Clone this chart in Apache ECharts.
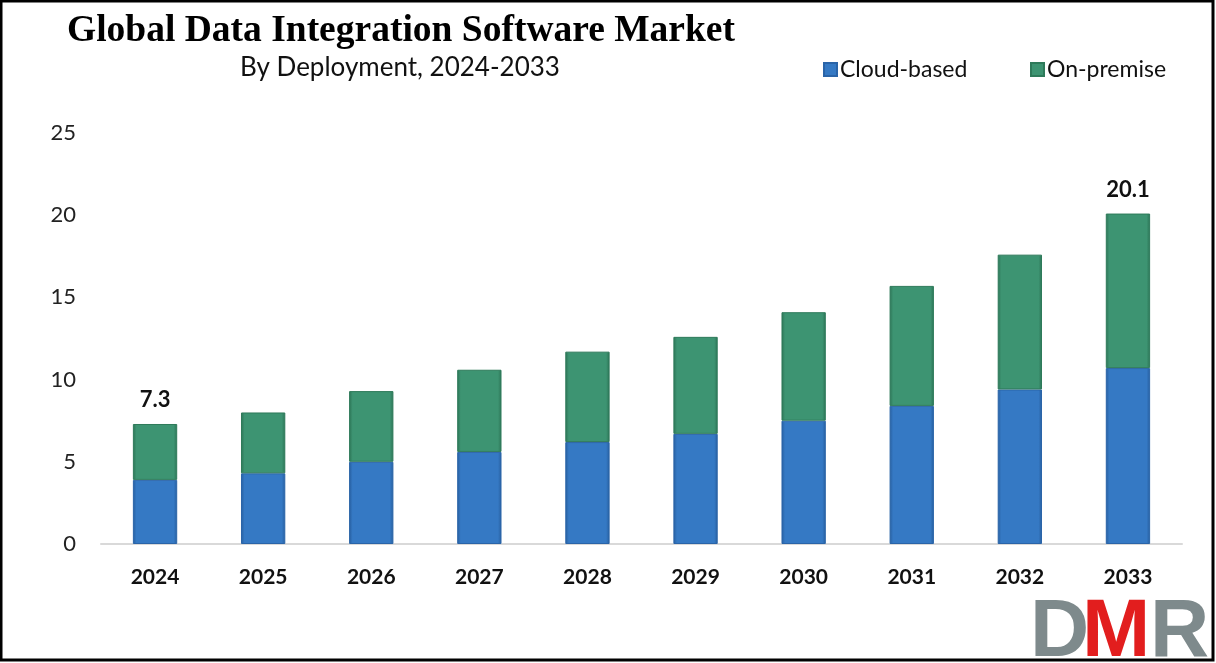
<!DOCTYPE html>
<html>
<head>
<meta charset="utf-8">
<script src="https://cdn.jsdelivr.net/npm/echarts@6/dist/echarts.min.js"></script>
<style>
html,body{margin:0;padding:0;background:#fff;}
#chart{width:1216px;height:663px;}
</style>
</head>
<body>
<div id="chart"></div>
<script>
const categories = ['2024','2025','2026','2027','2028','2029','2030','2031','2032','2033'];
const cloudBased = [3.9, 4.3, 5.0, 5.6, 6.2, 6.7, 7.5, 8.4, 9.4, 10.7];
const onPremise  = [3.4, 3.7, 4.3, 5.0, 5.5, 5.9, 6.6, 7.3, 8.2, 9.4];
const labeledIndices = [0, 9];
const yTicks = [0, 5, 10, 15, 20, 25];

const blueGrad = new echarts.graphic.LinearGradient(0,0,1,0,[
  {offset:0,color:'#275E9E'},{offset:0.08,color:'#3579C4'},
  {offset:0.92,color:'#3579C4'},{offset:1,color:'#275E9E'}]);
const greenGrad = new echarts.graphic.LinearGradient(0,0,1,0,[
  {offset:0,color:'#2C7355'},{offset:0.08,color:'#3D9472'},
  {offset:0.92,color:'#3D9472'},{offset:1,color:'#2C7355'}]);

const chart = echarts.init(document.getElementById('chart'));
chart.setOption({
  backgroundColor:'#fff',
  animation:false,
  grid:{left:101,right:34,top:133,bottom:119},
  legend:[
    {data:['Cloud-based'],left:818,top:53,itemWidth:13,itemHeight:13,icon:'rect',
     textStyle:{fontFamily:'Lato',fontSize:23,color:'#111',padding:[0,0,0,-2]}},
    {data:['On-premise'],left:1025,top:53,itemWidth:13,itemHeight:13,icon:'rect',
     textStyle:{fontFamily:'Lato',fontSize:23,color:'#111',padding:[0,0,0,-2]}}
  ],
  xAxis:{type:'category',data:categories,
    axisLine:{lineStyle:{color:'#D9D9D9',width:2}},axisTick:{show:false},
    axisLabel:{margin:23,fontFamily:'Lato',fontWeight:'bold',fontSize:21,color:'#111'}},
  yAxis:{type:'value',min:yTicks[0],max:yTicks[yTicks.length-1],interval:5,
    axisLine:{show:false},axisTick:{show:false},splitLine:{show:false},
    axisLabel:{margin:25,fontFamily:'Lato',fontSize:22,color:'#222'}},
  series:[
    {name:'Cloud-based',type:'bar',stack:'t',data:cloudBased,barWidth:'41%',
     itemStyle:{color:blueGrad,borderColor:'#2A64A8',borderWidth:1}},
    {name:'On-premise',type:'bar',stack:'t',data:onPremise,barWidth:'41%',
     itemStyle:{color:greenGrad,borderColor:'#2E7A5A',borderWidth:1},
     label:{show:true,position:'top',distance:13,fontFamily:'Lato',fontWeight:'bold',fontSize:22,color:'#111',
       formatter:p=> labeledIndices.includes(p.dataIndex) ? (cloudBased[p.dataIndex]+onPremise[p.dataIndex]).toFixed(1) : ''}}
  ],
  graphic:[
    {type:'text',left:67,top:12,style:{text:'Global Data Integration Software Market',font:'bold 37.5px "Liberation Serif"',fill:'#000'}},
    {type:'text',top:55,left:240,style:{text:'By Deployment, 2024-2033',font:'26px Lato',fill:'#111'}},
    {type:'text',left:1030,top:592,z:5,style:{text:'D',font:'bold 82px "Liberation Sans"',fill:'#7E8A8C'}},
    {type:'text',left:1082,top:592,z:6,style:{text:'M',font:'bold 82px "Liberation Sans"',fill:'#E21E1E'}},
    {type:'text',left:1150,top:592,z:5,style:{text:'R',font:'bold 82px "Liberation Sans"',fill:'#7E8A8C'}},
    {type:'rect',z:10,shape:{x:1,y:1,width:1212,height:659},style:{fill:'none',stroke:'#000',lineWidth:3}}
  ]
});
</script>
</body>
</html>
